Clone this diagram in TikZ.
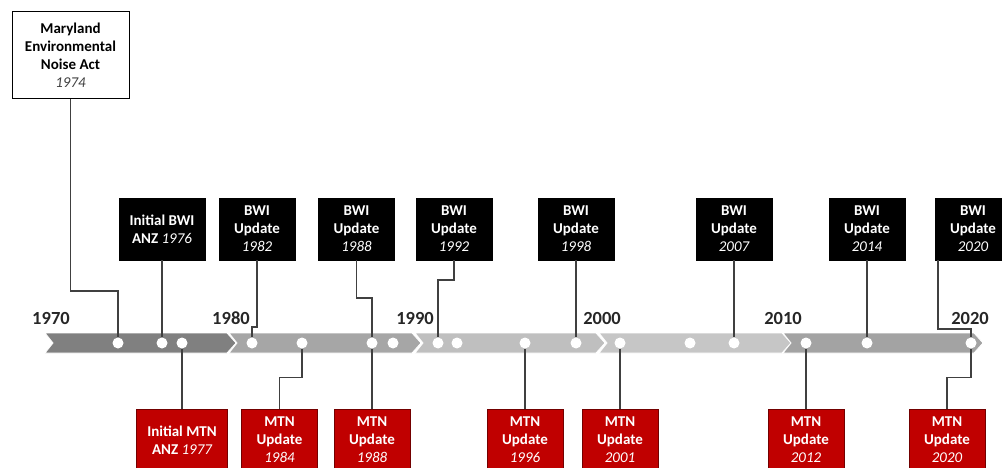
\documentclass[tikz,border=0pt]{standalone}
\usepackage{fontspec}
\setmainfont{Carlito}
\usetikzlibrary{calc}

\definecolor{segA}{HTML}{808080}
\definecolor{segB}{HTML}{A6A6A6}
\definecolor{segC}{HTML}{BFBFBF}
\definecolor{segD}{HTML}{C6C6C6}
\definecolor{segE}{HTML}{A3A3A3}
\definecolor{mtnred}{HTML}{C00000}
\definecolor{wire}{HTML}{404040}

\newcommand{\yr}[1]{{\mdseries\itshape #1}}

\begin{document}
\begin{tikzpicture}[x=1pt, y=-1pt]
\tikzstyle{box}     = [rectangle, align=center, font=\bfseries\fontsize{15}{18}\selectfont, inner sep=2pt, minimum height=62]
\tikzstyle{act}     = [box, fill=white, draw=black, line width=1, text=black, minimum width=117, minimum height=87]
\tikzstyle{bwi}     = [box, fill=black, draw=black, text=white, minimum width=76]
\tikzstyle{mtn}     = [box, fill=mtnred, draw=mtnred!60!black, line width=1, text=white, minimum width=76]
\tikzstyle{dot}     = [circle, fill=white, inner sep=0pt, minimum size=11]
\tikzstyle{decade}  = [font=\bfseries\fontsize{18.5}{20}\selectfont, text=black!85, inner sep=0pt]
\tikzstyle{link}    = [draw=wire, line width=1.5]

\useasboundingbox (0,0) rectangle (1002,468);
\clip (0,0) rectangle (1002,468);

% timeline band
\foreach \s/\t/\c in {45/236/segA, 229/421/segB, 415/605/segC, 599/791/segD, 783/983/segE}
  \filldraw [fill=\c, draw=white, line width=0.8]
    (\s,333) -- (\t-9,333) -- (\t,343) -- (\t-9,353) -- (\s,353) -- (\s+8,343) -- cycle;

% decades
\node (y70) [decade] at (51,318)  {1970};
\node (y80) [decade] at (231,318) {1980};
\node (y90) [decade] at (415,318) {1990};
\node (y00) [decade] at (602,318) {2000};
\node (y10) [decade] at (783,318) {2010};
\node (y20) [decade] at (970,318) {2020};

% events on the line
\node (d74) [dot] at (118,343) {};
\node (d76) [dot] at (162,343) {};
\node (d77) [dot] at (182,343) {};
\node (d82) [dot] at (252,343) {};
\node (d84) [dot] at (302,343) {};
\node (d88) [dot] at (372,343) {};
\node (dx1) [dot] at (393,343) {};
\node (d92) [dot] at (438,343) {};
\node (dx2) [dot] at (457,343) {};
\node (d96) [dot] at (525,343) {};
\node (d98) [dot] at (576,343) {};
\node (d01) [dot] at (620,343) {};
\node (dx3) [dot] at (690,343) {};
\node (d07) [dot] at (734,343) {};
\node (d12) [dot] at (806,343) {};
\node (d14) [dot] at (867,343) {};
\node (d20) [dot] at (971,343) {};

% BWI boxes (top)
\node (mna) [act] at (70.5,55.5)              {Maryland\\Environmental\\Noise Act\\{\color{black!75}\yr{1974}}};
\node (b76) [bwi, minimum width=86] at (162,229) {Initial BWI\\ANZ \yr{1976}};
\node (b82) [bwi] at (257,229)   {BWI\\Update\\\yr{1982}};
\node (b88) [bwi] at (356.5,229) {BWI\\Update\\\yr{1988}};
\node (b92) [bwi] at (454,229)   {BWI\\Update\\\yr{1992}};
\node (b98) [bwi] at (576,229)   {BWI\\Update\\\yr{1998}};
\node (b07) [bwi] at (734,229)   {BWI\\Update\\\yr{2007}};
\node (b14) [bwi] at (867,229)   {BWI\\Update\\\yr{2014}};
\node (b20) [bwi] at (973,229)   {BWI\\Update\\\yr{2020}};

% MTN boxes (bottom)
\node (m77) [mtn, minimum width=91] at (182,440) {Initial MTN\\ANZ \yr{1977}};
\node (m84) [mtn] at (279.5,440) {MTN\\Update\\\yr{1984}};
\node (m88) [mtn] at (372,440)   {MTN\\Update\\\yr{1988}};
\node (m96) [mtn] at (525,440)   {MTN\\Update\\\yr{1996}};
\node (m01) [mtn] at (620,440)   {MTN\\Update\\\yr{2001}};
\node (m12) [mtn] at (806,440)   {MTN\\Update\\\yr{2012}};
\node (m20) [mtn] at (947,440)   {MTN\\Update\\\yr{2020}};

% links above
\draw [link] (mna.south) |- ($(d74)+(0,-52)$) -- (d74.north);
\draw [link] (b76.south) -- (d76.north);
\draw [link] (b82.south) |- ($(d82)+(0,-16)$) -- (d82.north);
\draw [link] (b88.south) |- ($(d88)+(0,-45)$) -- (d88.north);
\draw [link] (b92.south) |- ($(d92)+(0,-63)$) -- (d92.north);
\draw [link] (b98.south) -- (d98.north);
\draw [link] (b07.south) -- (d07.north);
\draw [link] (b14.south) -- (d14.north);
\draw [link] ($(b20.south west)+(3,0)$) |- ($(d20)+(0,-14)$) -- (d20.north);

% links below
\draw [link] (d77.south) -- (m77.north);
\draw [link] (d84.south) |- ($(m84.north)+(0,-31)$) -- (m84.north);
\draw [link] (d88.south) -- (m88.north);
\draw [link] (d96.south) -- (m96.north);
\draw [link] (d01.south) -- (m01.north);
\draw [link] (d12.south) -- (m12.north);
\draw [link] (d20.south) |- ($(m20.north)+(0,-31)$) -- (m20.north);
\end{tikzpicture}
\end{document}
